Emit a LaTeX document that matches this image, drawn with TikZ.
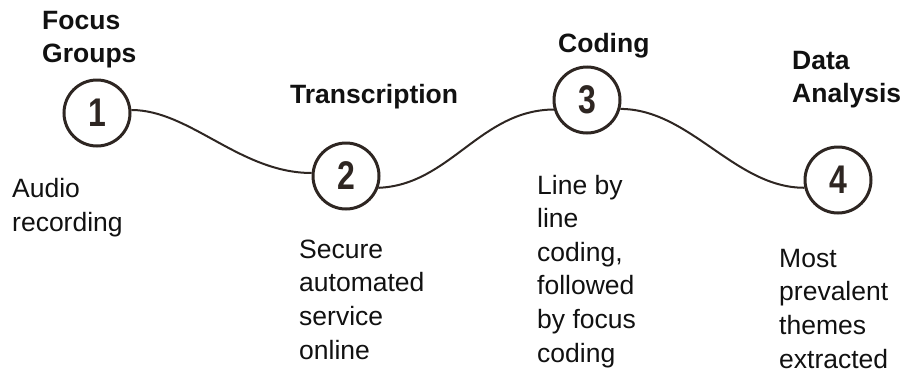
\documentclass[tikz,border=0pt]{standalone}
\usepackage{fontspec}
\setmainfont{Liberation Sans}
\newfontfamily\numfont[FakeStretch=0.8]{Liberation Sans Bold}
\definecolor{ink}{HTML}{2E2622}
\definecolor{txt}{HTML}{111111}
\begin{document}
\begin{tikzpicture}[x=1pt,y=-1pt,
  stepcircle/.style={circle,draw=ink,line width=3pt,minimum size=66pt,inner sep=0pt,
     font=\numfont\fontsize{40}{40}\selectfont,text=ink},
  heading/.style={anchor=base west,inner sep=0pt,align=left,text=txt,
     font=\bfseries\fontsize{26.5}{33}\selectfont},
  desc/.style={anchor=base west,inner sep=0pt,align=left,text=txt,
     font=\fontsize{26.5}{33.6}\selectfont},
  link/.style={draw=ink,line width=2pt}]
\useasboundingbox (0,0) rectangle (905,375);
\node[stepcircle] (c1) at (97,113) {1};
\node[stepcircle] (c2) at (346,176) {2};
\node[stepcircle] (c3) at (587,100) {3};
\node[stepcircle] (c4) at (838,180) {4};
\draw[link] (c1.5) .. controls (190,110) and (240,173) .. (c2.175);
\draw[link] (c2.-20) .. controls (450,185) and (480,110) .. (c3.196);
\draw[link] (c3.-15) .. controls (690,109) and (735,188) .. (c4.193);
\node[heading] (h1) at (42,62) {Focus\\Groups};
\node[heading] (h2) at (290,103) {Transcription};
\node[heading] (h3) at (558,52) {Coding};
\node[heading] (h4) at (792,102) {Data\\Analysis};
\node[desc] (d1) at (12,231) {Audio\\recording};
\node[desc] (d2) at (299,359) {Secure\\automated\\service\\online};
\node[desc] (d3) at (537,362) {Line by\\line\\coding,\\followed\\by focus\\coding};
\node[desc] (d4) at (779,368) {Most\\prevalent\\themes\\extracted};
\end{tikzpicture}
\end{document}
